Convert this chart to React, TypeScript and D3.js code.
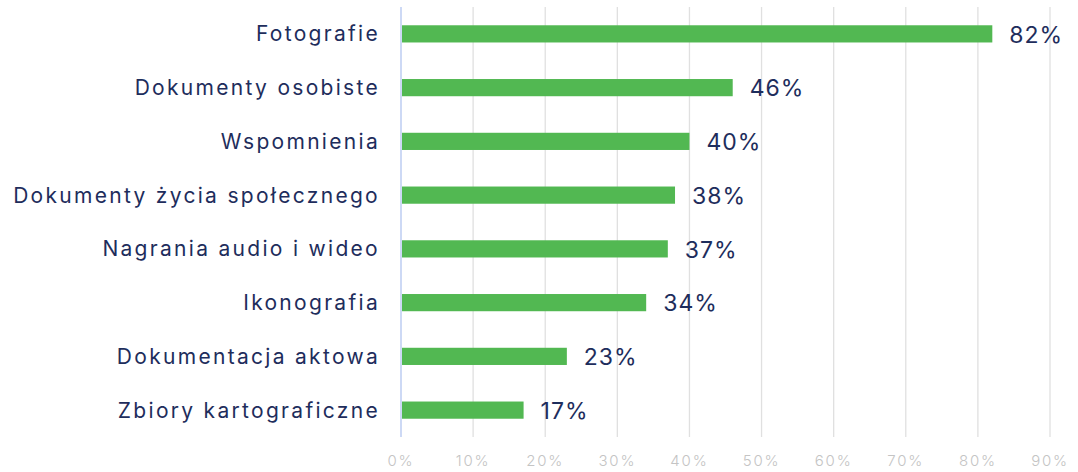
import React from "react";
import * as d3 from "d3";

const categories = [
  "Fotografie",
  "Dokumenty osobiste",
  "Wspomnienia",
  "Dokumenty życia społecznego",
  "Nagrania audio i wideo",
  "Ikonografia",
  "Dokumentacja aktowa",
  "Zbiory kartograficzne",
];
const values = [82, 46, 40, 38, 37, 34, 23, 17];
const tickValues = [0, 10, 20, 30, 40, 50, 60, 70, 80, 90];

const W = 1078;
const H = 472;
const x0 = 401;
const x1 = 1050;
const yTop = 7;
const yBottom = 437;
const FONT = "Inter, 'Noto Sans', sans-serif";

export default function App() {
  const x = d3.scaleLinear().domain([0, 90]).range([x0, x1]);
  const y = d3.scaleBand<string>().domain(categories).range([yTop, yBottom]).paddingInner(0.68).paddingOuter(0.34);
  const data = categories.map((c, i) => ({ c, v: values[i] }));
  return (
    <svg width={W} height={H} style={{ position: "absolute", left: 0, top: 0, background: "#fff" }}>
      {tickValues.map((t) =>
        t === 0 ? null : (
          <line key={t} x1={x(t)} x2={x(t)} y1={yTop} y2={yBottom} stroke="#e0e0e0" strokeWidth={1.3} />
        )
      )}
      {tickValues.map((t) => (
        <text key={"l" + t} x={x(t)} y={466} textAnchor="middle" fontFamily={FONT} fontSize={15} letterSpacing={1.8} fontWeight={300} fill="#c4c4c4">
          {t}%
        </text>
      ))}
      {data.map((d) => (
        <g key={d.c}>
          <rect x={x(0)} y={y(d.c)!} width={x(d.v) - x(0)} height={y.bandwidth()} fill="#52b852" />
          <text
            x={x(d.v) + 17}
            y={y(d.c)! + y.bandwidth() / 2}
            dy="0.38em"
            fontFamily={FONT}
            fontSize={23}
            letterSpacing={1}
            fill="#1e2d5c"
          >
            {d.v}%
          </text>
          <text
            x={380}
            y={y(d.c)! + y.bandwidth() / 2}
            dy="0.36em"
            textAnchor="end"
            fontFamily={FONT}
            fontSize={21}
            letterSpacing={2.3}
            fill="#1e2d5c"
          >
            {d.c}
          </text>
        </g>
      ))}
      <line x1={x0} x2={x0} y1={yTop} y2={yBottom} stroke="#cdd9f5" strokeWidth={2} />
    </svg>
  );
}
